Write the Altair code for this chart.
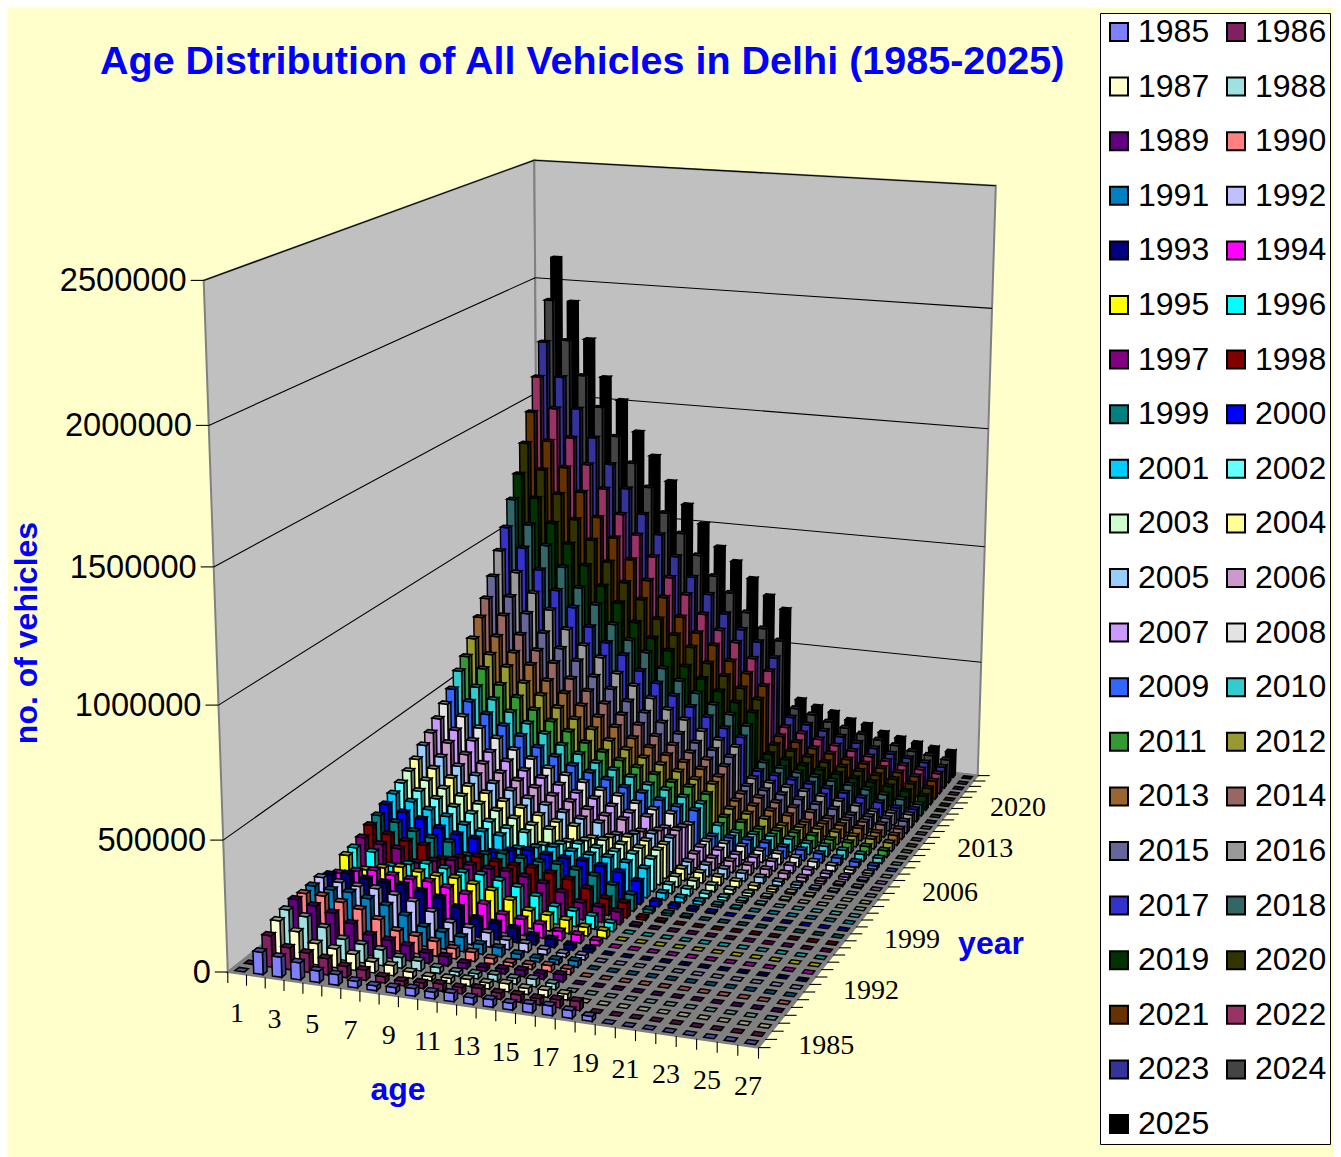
import altair as alt
import numpy as np
import pandas as pd

TITLE = "Age Distribution of All Vehicles in Delhi (1985-2025)"
YEARS = list(range(1985, 2026))
AGES = list(range(1, 28))
WALL_TICKS = [0, 500000, 1000000, 1500000, 2000000, 2500000]
YEAR_LABELS = [1985, 1992, 1999, 2006, 2013, 2020]
AGE_LABELS = list(range(1, 28, 2))
COLORS = ["#8080FF", "#802060", "#FFFFCC", "#A0E0E0", "#600080", "#FF8080", "#0080C0", "#C0C0FF",
          "#000080", "#FF00FF", "#FFFF00", "#00FFFF", "#800080", "#800000", "#008080", "#0000FF",
          "#00CCFF", "#66FFFF", "#CCFFCC", "#FFFF99", "#99CCFF", "#CC99CC", "#CC99FF", "#E3E3E3",
          "#3366FF", "#33CCCC", "#339933", "#999933", "#996633", "#996666", "#666699", "#999999",
          "#3333CC", "#336666", "#003300", "#333300", "#663300", "#993366", "#333399", "#444444",
          "#000000"]

# vehicles in thousands, by age 1..27, one list per year
v1985 = [0,85,76,65,44,40,25,18,22,28,25,32,25,28,25,32,36,29,18,0,0,0,0,0,0,0,0]
v1986 = [0,120,84,74,63,43,39,24,17,21,27,24,31,24,27,24,30,34,0,0,0,0,0,0,0,0,0]
v1987 = [0,150,118,82,72,61,42,38,23,16,20,26,23,30,23,26,22,0,0,0,0,0,0,0,0,0,0]
v1988 = [0,165,148,116,81,71,60,41,37,22,16,19,25,22,29,22,0,0,0,0,0,0,0,0,0,0,0]
v1989 = [0,178,163,145,114,79,69,58,40,36,21,15,19,24,21,28,0,0,0,0,0,0,0,0,0,0,0]
v1990 = [0,175,175,160,142,112,78,68,57,39,35,21,15,18,24,21,0,0,0,0,0,0,0,0,0,0,0]
v1991 = [0,178,172,172,157,140,110,76,66,56,38,34,20,14,18,23,0,0,0,0,0,0,0,0,0,0,0]
v1992 = [0,185,175,169,169,154,138,108,75,65,55,37,33,20,14,17,0,0,0,0,0,0,0,0,0,0,0]
v1993 = [0,170,182,172,166,166,151,135,106,73,64,54,36,32,19,14,0,0,0,0,0,0,0,0,0,0,0]
v1994 = [0,150,167,179,169,163,163,149,133,104,72,63,53,35,31,19,0,0,0,0,0,0,0,0,0,0,0]
v1995 = [0,195,147,164,176,166,160,160,146,130,102,70,62,52,34,30,0,0,0,0,0,0,0,0,0,0,0]
v1996 = [0,200,192,145,161,173,163,157,157,143,127,100,69,61,51,33,0,0,0,0,0,0,0,0,0,0,0]
v1997 = [0,215,197,189,142,158,170,160,154,154,141,125,98,67,60,50,6,0,0,0,0,0,0,0,0,0,0]
v1998 = [0,240,212,194,186,140,155,167,157,151,151,138,123,96,66,59,10,5,0,0,0,0,0,0,0,0,0]
v1999 = [0,255,236,209,191,183,137,152,164,155,149,149,136,121,94,65,14,9,5,0,0,0,0,0,0,0,0]
v2000 = [0,275,251,232,206,188,180,135,150,161,152,146,146,134,119,92,20,13,9,5,0,0,0,0,0,0,0]
v2001 = [0,295,271,247,228,203,185,177,133,147,158,150,144,144,132,117,28,19,13,8,5,0,0,0,0,0,0]
v2002 = [0,315,290,267,243,224,200,182,174,131,145,155,147,142,142,130,35,27,18,12,8,4,0,0,0,0,0]
v2003 = [0,340,310,285,263,239,220,197,179,171,129,143,153,145,140,140,42,34,26,17,12,7,4,0,0,0,0]
v2004 = [0,365,335,305,280,259,235,216,194,176,168,127,140,150,143,138,48,41,33,25,16,11,7,4,0,0,0]
v2005 = [0,400,360,330,300,276,255,231,213,191,173,165,125,138,148,140,50,47,40,32,24,16,11,7,4,0,0]
v2006 = [0,430,395,355,325,295,272,251,227,210,188,170,162,123,136,145,58,49,46,39,31,23,15,10,6,4,0]
v2007 = [0,465,425,390,350,320,290,268,247,223,207,185,167,159,121,134,60,57,48,45,38,30,22,15,10,6,0]
v2008 = [0,505,460,420,385,345,315,285,264,243,219,204,182,164,156,119,58,59,56,47,44,37,29,22,14,9,0]
v2009 = [0,545,500,455,415,380,340,310,281,260,239,215,201,179,161,153,55,57,58,55,46,43,36,28,21,14,0]
v2010 = [0,600,540,495,450,410,375,335,305,277,256,235,211,198,176,158,75,54,56,57,54,45,42,35,27,20,0]
v2011 = [0,640,595,535,490,445,405,370,330,300,273,252,231,207,195,173,85,73,53,55,56,53,44,41,34,26,0]
v2012 = [0,695,635,590,530,485,440,400,365,325,295,269,248,227,203,192,95,83,71,52,54,55,52,43,40,33,0]
v2013 = [0,765,690,630,585,525,480,435,395,360,320,290,265,244,223,199,105,93,81,69,51,53,54,51,42,39,0]
v2014 = [0,825,760,685,625,580,520,475,430,390,355,315,285,261,240,219,112,103,91,79,67,50,52,53,50,41,0]
v2015 = [0,900,820,755,680,620,575,515,470,425,385,350,310,280,257,236,120,110,101,89,77,65,49,51,52,49,0]
v2016 = [0,990,904,823,758,682,621,576,515,470,424,384,348,308,278,256,129,119,109,100,88,76,64,48,51,52,0]
v2017 = [0,1071,990,903,822,756,680,619,573,513,467,421,381,345,305,274,137,127,117,107,97,86,74,62,48,50,0]
v2018 = [0,1173,1071,989,903,821,755,678,617,571,510,464,418,377,342,301,151,135,124,114,104,95,85,72,60,47,0]
v2019 = [0,1265,1168,1066,984,898,816,750,673,612,566,505,459,413,372,337,163,148,132,121,111,101,92,82,70,58,0]
v2020 = [0,1380,1272,1174,1071,989,901,819,752,675,613,567,505,458,412,371,180,162,146,130,119,109,99,90,79,68,0]
v2021 = [0,1498,1379,1271,1172,1069,987,899,816,749,671,609,563,501,455,408,196,178,159,144,127,117,106,96,87,76,0]
v2022 = [0,1633,1503,1383,1274,1175,1071,988,900,816,749,671,608,562,499,452,213,194,176,157,141,125,114,104,94,84,0]
v2023 = [0,1768,1622,1492,1373,1264,1165,1061,978,889,806,738,660,598,551,489,234,210,191,173,154,138,122,111,101,90,0]
v2024 = [0,1933,1766,1620,1489,1369,1259,1160,1055,972,883,799,732,653,590,543,251,232,208,189,170,152,136,119,109,98,0]
v2025 = [0,2101,1918,1761,1603,1509,1378,1279,1174,1079,1001,907,849,781,713,660,267,244,227,201,188,161,145,131,118,109,0]
ROWS = [v1985, v1986, v1987, v1988, v1989, v1990, v1991, v1992, v1993, v1994, v1995, v1996, v1997, v1998,
        v1999, v2000, v2001, v2002, v2003, v2004, v2005, v2006, v2007, v2008, v2009, v2010, v2011, v2012,
        v2013, v2014, v2015, v2016, v2017, v2018, v2019, v2020, v2021, v2022, v2023, v2024, v2025]

W, H, M = 1325, 1149, 8
NA, NY, ZMAX = len(AGES), len(YEARS), 2500.0

# the perspective of the 3-D box: box corners and wall heights -> page position, weighted least squares
VIEW = [(0, 0, 0, 228, 972, 8), (NA, 0, 0, 758, 1048, 8), (NA, NY, 0, 978, 775, 8), (0, NY, 0, 538, 740, 1),
        (0, 0, 1, 204, 280, 8), (0, NY, 1, 534, 160, 8), (NA, NY, 1, 996, 186, 8),
        (0, 0, .4, 218.6, 704, 1), (0, 0, .8, 209.1, 426, 1),
        (NA, NY, .4, 984, 547, 1), (NA, NY, .8, 992, 308, 1),
        (0, NY, .8, 535, 278, 2), (0, NY, .6, 535.5, 397, 2)]
A, b = [], []
for X, Y, Z, u, v, w in VIEW:
    X, Y = X / NA, Y / NY
    A.append([w * c for c in [X, Y, Z, 1, 0, 0, 0, 0, -u * X, -u * Y, -u * Z]]); b.append(w * u)
    A.append([w * c for c in [0, 0, 0, 0, X, Y, Z, 1, -v * X, -v * Y, -v * Z]]); b.append(w * v)
p = np.linalg.lstsq(np.array(A, float), np.array(b, float), rcond=None)[0]


def proj(X, Y, Z=0.0):
    X, Y = X / NA, Y / NY
    d = p[8] * X + p[9] * Y + p[10] * Z + 1
    return (round(float((p[0] * X + p[1] * Y + p[2] * Z + p[3]) / d - M), 1),
            round(float((p[4] * X + p[5] * Y + p[6] * Z + p[7]) / d - M), 1))


def shade(hex_color, f):
    r, g, bl = (int(hex_color[i:i + 2], 16) for i in (1, 3, 5))
    return "#%02x%02x%02x" % (int(r * f), int(g * f), int(bl * f))


def poly(points, key):
    ring = [list(q) for q in points] + [list(points[0])]
    return {"type": "Feature", "properties": {"key": key},
            "geometry": {"type": "Polygon", "coordinates": [ring]}}


features = []
for k in range(NY - 1, -1, -1):
    yr = str(YEARS[k])
    y0, y1 = k + .28, k + .72
    for a in range(NA):
        x0, x1 = a + .25, a + .75
        z = ROWS[k][a] / ZMAX
        if z > 0:
            features.append(poly([proj(x1, y0), proj(x1, y1), proj(x1, y1, z), proj(x1, y0, z)], yr + " side"))
            features.append(poly([proj(x0, y0), proj(x1, y0), proj(x1, y0, z), proj(x0, y0, z)], yr))
        features.append(poly([proj(x0, y0, z), proj(x1, y0, z), proj(x1, y1, z), proj(x0, y1, z)], yr + " top"))

domain, crange = [], []
for yr, c in zip(YEARS, COLORS):
    domain += [str(yr), f"{yr} side", f"{yr} top"]
    crange += [c, shade(c, .5), shade(c, .62)]

GEO = dict(type="identity", scale=1, translate=[0, 0])
XS = alt.Scale(domain=[0, W], range=[0, W])
YS = alt.Scale(domain=[0, H], range=[0, H])


def panel(points, fill):
    return alt.Chart(alt.Data(values=[poly(points, "wall")])).mark_geoshape(
        fill=fill, stroke="#808080", strokeWidth=2).project(**GEO)


walls = [
    panel([proj(0, 0), proj(0, NY), proj(0, NY, 1), proj(0, 0, 1)], "#C0C0C0"),
    panel([proj(0, NY), proj(NA, NY), proj(NA, NY, 1), proj(0, NY, 1)], "#C0C0C0"),
    panel([proj(0, 0), proj(NA, 0), proj(NA, NY), proj(0, NY)], "#808080"),
]

segments = []
for t in WALL_TICKS:
    z = t / (ZMAX * 1000)
    l0, l1, r1 = proj(0, 0, z), proj(0, NY, z), proj(NA, NY, z)
    if t > 0:
        segments.append((l0[0], l0[1], l1[0], l1[1]))
        segments.append((l1[0], l1[1], r1[0], r1[1]))
    segments.append((l0[0] - 13, l0[1], l0[0], l0[1]))
for a in range(NA + 1):
    e = proj(a, 0)
    segments.append((e[0], e[1], e[0], e[1] + 11))
for k in range(NY + 1):
    e = proj(NA, k)
    segments.append((e[0], e[1], e[0] + 12, e[1]))
seg = pd.DataFrame(segments, columns=["x", "y", "x2", "y2"])
rules = alt.Chart(seg).mark_rule(color="black", strokeWidth=1.1).encode(
    x=alt.X("x:Q", scale=XS, axis=None), y=alt.Y("y:Q", scale=YS, axis=None), x2="x2:Q", y2="y2:Q")

bars = alt.Chart(alt.Data(values=features)).mark_geoshape(stroke="black", strokeWidth=1.5).project(**GEO).encode(
    color=alt.Color("properties.key:N",
                    scale=alt.Scale(domain=domain, range=crange),
                    legend=alt.Legend(orient="none", legendX=1092, legendY=5, columns=2, direction="horizontal",
                                      values=[str(y) for y in YEARS], title=None, symbolLimit=0,
                                      symbolType="square", symbolSize=324,
                                      symbolStrokeColor="black", symbolStrokeWidth=2,
                                      labelFont="Liberation Sans", labelFontSize=32, labelColor="black",
                                      labelOffset=3, rowPadding=22.6, columnPadding=10, padding=3,
                                      fillColor="white", strokeColor="black")))


def labels(rows, font, size, align="center", color="black", weight="normal", angle=0):
    return alt.Chart(pd.DataFrame(rows, columns=["x", "y", "t"])).mark_text(
        font=font, fontSize=size, align=align, baseline="middle", color=color, fontWeight=weight, angle=angle
    ).encode(x=alt.X("x:Q", scale=XS, axis=None), y=alt.Y("y:Q", scale=YS, axis=None), text="t:N")


wall_lab = labels([(proj(0, 0, t / (ZMAX * 1000))[0] - 17, proj(0, 0, t / (ZMAX * 1000))[1] + 1, str(t))
                   for t in WALL_TICKS], "Liberation Sans", 32.6, align="right")
age_lab = labels([(proj(a - .5, 0)[0], proj(a - .5, 0)[1] + 41, str(a)) for a in AGE_LABELS],
                 "Liberation Serif", 28)
year_lab = labels([(proj(NA, y - 1985 + .5)[0] + 64.5, proj(NA, y - 1985 + .5)[1] + 2.5, str(y)) for y in YEAR_LABELS],
                  "Liberation Serif", 28)
t1 = labels([(398 - M, 1090 - M, "age"), (991 - M, 944 - M, "year")], "Liberation Sans", 32, color="#0000FF", weight="bold")
t2 = labels([(27 - M, 633 - M, "no. of vehicles")], "Liberation Sans", 32, color="#0000FF", weight="bold", angle=270)

chart = alt.layer(*walls, rules, bars, wall_lab, age_lab, year_lab, t1, t2).properties(
    width=W, height=H, padding=0, background="#FFFFCC",
    autosize=alt.AutoSizeParams(type="none"),
    title=alt.TitleParams(TITLE, font="Liberation Sans", fontSize=39.5, fontWeight="bold", color="#0000FF",
                          anchor="start", dx=92, dy=78),
).configure_view(stroke=None)

chart.save("out.html", embed_options={"renderer": "svg", "actions": False})
